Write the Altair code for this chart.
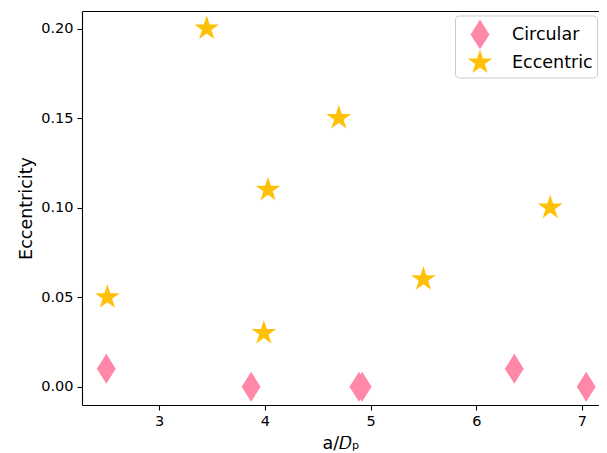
import math
import altair as alt
import pandas as pd

# data
circ_x = [2.50, 3.87, 4.89, 4.92, 6.36, 7.04]
circ_y = [0.01, 0.00, 0.00, 0.00, 0.01, 0.00]
ecc_x = [2.51, 3.45, 4.03, 3.99, 4.70, 5.50, 6.70]
ecc_y = [0.05, 0.20, 0.11, 0.03, 0.15, 0.06, 0.10]
types = ["Circular", "Eccentric"]
colors = ["#FF88A8", "#FFC107"]
x_ticks = [3, 4, 5, 6, 7]
y_ticks = [0.0, 0.05, 0.10, 0.15, 0.20]

df = pd.DataFrame({
    "x": circ_x + ecc_x,
    "y": circ_y + ecc_y,
    "type": [types[0]] * len(circ_x) + [types[1]] * len(ecc_x),
})

# marker shapes (unit paths)
diamond = "M0,-1L0.63,0L0,1L-0.63,0Z"
pts = []
for k in range(10):
    r = 1.0 if k % 2 == 0 else 0.382
    a = math.radians(-90 + 36 * k)
    pts.append(f"{r*math.cos(a):.4f},{r*math.sin(a):.4f}")
star = "M" + "L".join(pts) + "Z"

FONT = "DejaVu Sans"
W, H = 517, 394

leg = alt.Legend(
    title=None, orient="none", legendX=373, legendY=4.5,
    fillColor="white", strokeColor="#cccccc", cornerRadius=4,
    padding=4, rowPadding=-4, labelFontSize=17.5, labelFont=FONT,
    labelColor="black", labelOffset=17, symbolOffset=6, symbolStrokeWidth=0,
)

xscale = alt.Scale(domain=[2.27, 2.27 + W / 105.7], nice=False, zero=False)
yscale = alt.Scale(domain=[-0.0102, 0.2098], nice=False, zero=False)

points = alt.Chart(df).mark_point(filled=True, opacity=1, strokeWidth=0).encode(
    x=alt.X("x:Q", scale=xscale,
            axis=alt.Axis(values=x_ticks, format="d", title="a/𝐷ₚ", orient="bottom",
                          titlePadding=7)),
    y=alt.Y("y:Q", scale=yscale,
            axis=alt.Axis(values=y_ticks, format=".2f", title="Eccentricity")),
    color=alt.Color("type:N", scale=alt.Scale(domain=types, range=colors), legend=leg),
    shape=alt.Shape("type:N", scale=alt.Scale(domain=types, range=[diamond, star]), legend=leg),
    size=alt.Size("type:N", scale=alt.Scale(domain=types, range=[900, 676]), legend=leg),
)

frame = alt.Chart(df).mark_point(opacity=0).encode(
    x=alt.X("x:Q", scale=xscale,
            axis=alt.Axis(orient="top", labels=False, ticks=False, title=None, domain=True)),
    y=alt.Y("y:Q", scale=yscale),
)

chart = alt.layer(points, frame).resolve_axis(x="independent").properties(
    width=W, height=H, autosize="none",
    padding={"left": 74, "top": 3, "right": 0, "bottom": 48},
).configure_view(stroke=None).configure_axis(
    grid=False, domainColor="black", domainWidth=1.1, tickColor="black",
    tickWidth=1.1, tickSize=5, labelPadding=4, labelFont=FONT, labelFontSize=14.5,
    labelColor="black", titleFont=FONT, titleFontSize=17.5, titleColor="black",
    titleFontWeight="normal", titlePadding=5,
)

chart.save("out.html", embed_options={"renderer": "svg", "actions": False})
